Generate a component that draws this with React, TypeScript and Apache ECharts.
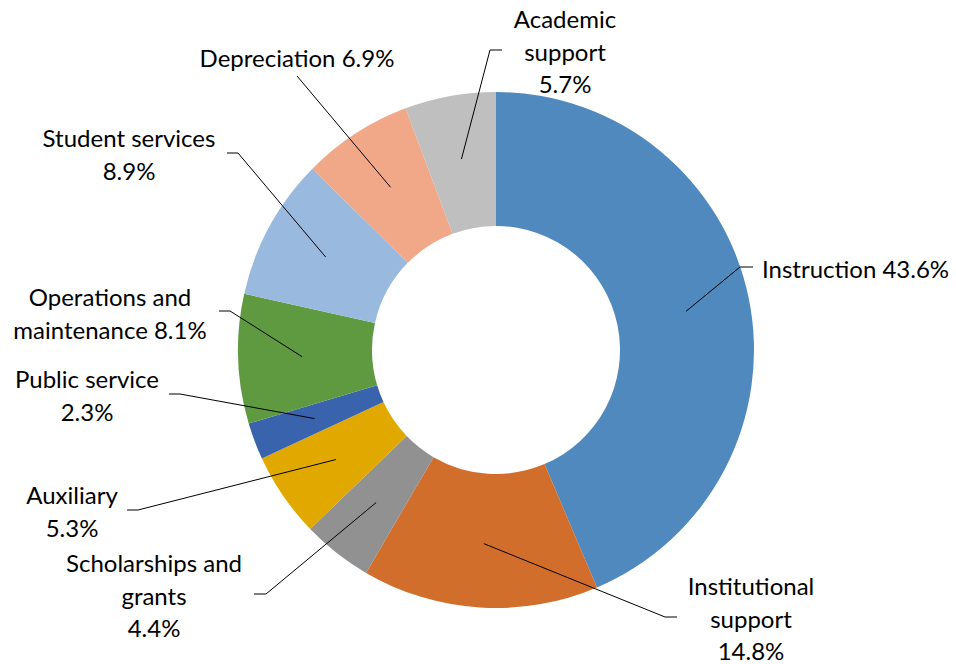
import React, { useEffect, useRef } from "react";
import * as echarts from "echarts";

const categories = [
  "Instruction",
  "Institutional support",
  "Scholarships and grants",
  "Auxiliary",
  "Public service",
  "Operations and maintenance",
  "Student services",
  "Depreciation",
  "Academic support",
];
const values = [43.6, 14.8, 4.4, 5.3, 2.3, 8.1, 8.9, 6.9, 5.7];
const labelNames = [
  "Instruction",
  "Institutional\nsupport",
  "Scholarships and\ngrants",
  "Auxiliary",
  "Public service",
  "Operations and\nmaintenance",
  "Student services",
  "Depreciation",
  "Academic\nsupport",
];
const labelSeps = [" ", "\n", "\n", "\n", "\n", " ", "\n", " ", "\n"];
const colors = [
  "#4F89BD",
  "#D26E2B",
  "#919191",
  "#E1A900",
  "#3A63AD",
  "#5F9A40",
  "#9AB9DF",
  "#F0A889",
  "#BFBFBF",
];

// layout: label anchor, elbow point, end point near label
const labelPos: [number, number][] = [
  [762, 268], [751, 618], [154, 595], [72, 511], [87, 395],
  [110, 313], [129, 154], [297, 57], [565, 51],
];
const labelAlign = ["left", "center", "center", "center", "center", "center", "center", "center", "center"];
const elbows: [number, number][] = [
  [740, 267], [665, 617], [266, 594], [138, 510], [180, 394],
  [230, 311], [238, 153], [297, 76], [490, 50],
];
const ends: [number, number][] = [
  [753, 267], [677, 617], [254, 594], [127, 510], [169, 394],
  [219, 311], [227, 153], [297, 76], [502, 50],
];

const CX = 496;
const CY = 350;
const R_IN = 124;
const R_OUT = 258;

export default function App() {
  const ref = useRef<HTMLDivElement>(null);
  useEffect(() => {
    if (!ref.current) return;
    const chart = echarts.init(ref.current, undefined, { renderer: "svg" });
    const total = values.reduce((a, b) => a + b, 0);
    const midAngles: number[] = [];
    let cum = 0;
    values.forEach((v) => {
      midAngles.push(((cum + v / 2) / total) * Math.PI * 2);
      cum += v;
    });
    const rMid = (R_IN + R_OUT) / 2 + 3;
    const pieData = categories.map((name, i) => ({
      name,
      value: values[i],
      itemStyle: { color: colors[i] },
    }));
    chart.setOption({
      animation: false,
      backgroundColor: "#ffffff",
      series: [
        {
          type: "pie",
          z: 2,
          center: [CX, CY],
          radius: [R_IN, R_OUT],
          startAngle: 90,
          clockwise: true,
          silent: true,
          itemStyle: { borderWidth: 0 },
          label: { show: false },
          labelLine: { show: false },
          data: pieData,
        },
        {
          type: "pie",
          z: 5,
          center: [CX, CY],
          radius: [R_IN, R_OUT],
          startAngle: 90,
          clockwise: true,
          silent: true,
          avoidLabelOverlap: false,
          itemStyle: { color: "rgba(0,0,0,0)", borderWidth: 0 },
          label: {
            show: true,
            position: "outside",
            color: "#000000",
            fontFamily: "Lato",
            fontSize: 24,
            lineHeight: 32.5,
            formatter: (p: any) =>
              labelNames[p.dataIndex] + labelSeps[p.dataIndex] + Number(p.value).toFixed(1) + "%",
          },
          labelLine: {
            show: true,
            lineStyle: { color: "#000000", width: 1 },
          },
          labelLayout: (params: any) => {
            const i = params.dataIndex;
            const a = midAngles[i];
            const start = [CX + rMid * Math.sin(a), CY - rMid * Math.cos(a)];
            return {
              x: labelPos[i][0],
              y: labelPos[i][1],
              align: labelAlign[i],
              verticalAlign: "middle",
              labelLinePoints: [start, elbows[i], ends[i]],
            };
          },
          data: categories.map((name, i) => ({ name, value: values[i] })),
        },
      ],
    });
    return () => chart.dispose();
  }, []);
  return (
    <div
      ref={ref}
      style={{ position: "fixed", left: 0, top: 0, width: 956, height: 664, background: "#fff" }}
    />
  );
}
